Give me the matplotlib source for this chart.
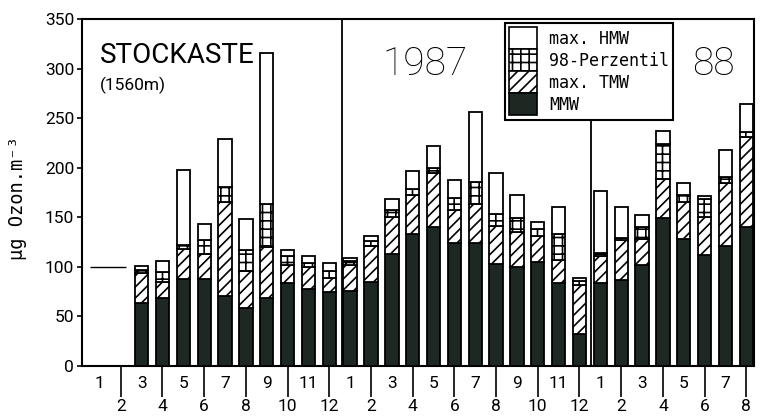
import numpy as np
import matplotlib
matplotlib.use("Agg")
import matplotlib.pyplot as plt
from matplotlib.patches import Patch

# ---- data (µg/m3), months Jan 1986 .. Aug 1988 ----
months = list(range(1, 13)) + list(range(1, 13)) + list(range(1, 9))
nan = np.nan
mmw = [nan, nan, 64, 69, 88, 88, 71, 58, 69, 84, 78, 75,
       76, 85, 113, 133, 140, 124, 124, 103, 100, 105, 84, 32,
       84, 87, 102, 149, 128, 112, 121, 140]
max_tmw = [nan, nan, 94, 85, 118, 113, 165, 96, 120, 102, 100, 89,
           102, 121, 150, 172, 195, 157, 163, 141, 135, 131, 107, 82,
           111, 127, 128, 189, 165, 150, 185, 231]
perz98 = [nan, nan, 97, 95, 122, 127, 181, 117, 163, 111, 104, 96,
          106, 126, 157, 179, 200, 169, 186, 153, 149, 138, 133, 86,
          114, 129, 140, 224, 172, 168, 191, 236]
max_hmw = [nan, nan, 101, 106, 198, 143, 229, 148, 316, 117, 111, 104,
           109, 131, 168, 197, 222, 188, 256, 195, 172, 145, 160, 89,
           177, 160, 152, 237, 185, 171, 218, 264]
legend_labels = ["max. HMW", "98-Perzentil", "max. TMW", "MMW"]

plt.rcParams["font.family"] = ["Roboto", "DejaVu Sans"]
plt.rcParams["hatch.linewidth"] = 1.2

DARK = "#1e2823"
W, H = 760, 417
fig = plt.figure(figsize=(W / 100, H / 100), dpi=100)
ax = fig.add_axes([82 / W, 51 / H, 672 / W, 347 / H])

x = np.arange(len(months))
a_mmw = np.array(mmw, float)
a_tmw = np.array(max_tmw, float)
a_p98 = np.array(perz98, float)
a_hmw = np.array(max_hmw, float)
ok = ~np.isnan(a_mmw)
xs = x[ok]
bw = 0.64
kw = dict(width=bw, edgecolor="black", linewidth=1.3, zorder=3)
ax.bar(xs, a_mmw[ok], color=DARK, **kw)
ax.bar(xs, a_tmw[ok] - a_mmw[ok], bottom=a_mmw[ok], color="white", hatch="///", **kw)
ax.bar(xs, a_p98[ok] - a_tmw[ok], bottom=a_tmw[ok], color="white", hatch="++", **kw)
ax.bar(xs, a_hmw[ok] - a_p98[ok], bottom=a_p98[ok], color="white", **kw)

ax.set_xlim(-0.86, 31.37)
ax.set_ylim(0, 350)

# year separators
ax.axvline(11.6, color="black", lw=1.3, zorder=2)
ax.vlines(23.55, 0, 247, color="black", lw=1.3, zorder=2)
ax.hlines(100, -0.48, 1.25, color="black", lw=1.0, zorder=2)

for s in ax.spines.values():
    s.set_linewidth(1.5)

ax.set_yticks(range(0, 351, 50))
ax.tick_params(axis="y", length=3.6, width=1.2, pad=2, labelsize=12.5)

even_idx = [i for i, m in enumerate(months) if m % 2 == 0]
odd_idx = [i for i, m in enumerate(months) if m % 2 == 1]
ax.set_xticks(even_idx)
ax.set_xticklabels([str(months[i]) for i in even_idx])
ax.set_xticks(odd_idx, minor=True)
ax.set_xticklabels([str(months[i]) for i in odd_idx], minor=True)
ax.tick_params(axis="x", which="major", length=22.3, width=1.2, pad=1.5, labelsize=12.5)
ax.tick_params(axis="x", which="minor", length=0, pad=7.5, labelsize=12.5)

# texts
fig.text(100 / W, 1 - 63 / H, "STOCKASTE", fontsize=20, va="baseline", ha="left")
fig.text(100 / W, 1 - 90 / H, "(1560m)", fontsize=12.5, va="baseline", ha="left")
fig.text(382 / W, 1 - 75 / H, "1987", fontsize=28, va="baseline", ha="left", weight="light")
fig.text(692 / W, 1 - 75 / H, "88", fontsize=28, va="baseline", ha="left", weight="light")
fig.text(18 / W, 1 - 198 / H, "µg Ozon.m⁻³", rotation=90, ha="center", va="center",
         fontsize=13.5, family=["DejaVu Sans Mono", "DejaVu Sans"])

handles = [
    Patch(facecolor="white", edgecolor="black", linewidth=1.2),
    Patch(facecolor="white", edgecolor="black", hatch="++", linewidth=1.2),
    Patch(facecolor="white", edgecolor="black", hatch="///", linewidth=1.2),
    Patch(facecolor=DARK, edgecolor="black", linewidth=1.2),
]
leg = ax.legend(handles, legend_labels, loc="upper left",
                bbox_to_anchor=(505 / W, 1 - 23 / H), bbox_transform=fig.transFigure,
                borderaxespad=0, frameon=True, fancybox=False, framealpha=1,
                edgecolor="black", labelspacing=0, handleheight=1.66,
                handlelength=1.68, handletextpad=0.72, borderpad=0.25,
                prop=dict(family=["DejaVu Sans Mono", "DejaVu Sans"], size=12))
leg.get_frame().set_linewidth(1.5)
leg.set_zorder(5)

fig.savefig("out.png", dpi=100)
